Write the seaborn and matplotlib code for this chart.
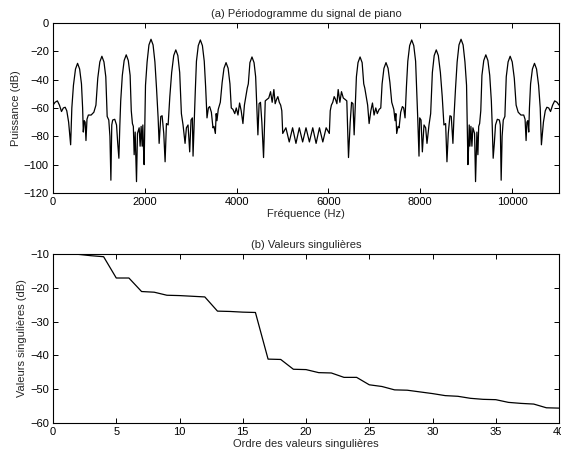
import matplotlib
matplotlib.use("Agg")
import matplotlib.pyplot as plt
import seaborn as sns

# (a) periodogramme : frequences (Hz) et puissance (dB), moitie basse puis moitie haute
freq_low = [0, 45, 95, 140, 185, 225, 265, 300, 340, 384,
            410, 445, 490, 535, 580, 620, 645, 660, 680, 700, 718, 740, 770, 830, 890, 935,
            975, 1020, 1065, 1110, 1150, 1180, 1215, 1240, 1261, 1280, 1300, 1345, 1384, 1410, 1435, 1455,
            1475, 1510, 1550, 1595, 1640, 1680, 1705, 1730, 1750, 1768, 1790, 1819, 1840, 1877, 1898, 1920,
            1942, 1957, 1971, 1985, 2000,
            2015, 2050, 2090, 2135, 2180, 2220, 2255, 2290, 2312, 2348, 2377, 2413, 2442, 2471, 2508,
            2545, 2585, 2630, 2675, 2720, 2760, 2797, 2833, 2877, 2906, 2942, 2978, 3007, 3036, 3051, 3080,
            3100, 3125, 3165, 3210, 3255, 3295, 3325, 3355, 3385, 3413, 3450, 3485, 3507, 3537, 3555, 3572, 3600,
            3645, 3685, 3725, 3770, 3815, 3855, 3884, 3920, 3960, 3993, 4030, 4065, 4100, 4138, 4170, 4200, 4232, 4255,
            4290, 4335, 4380, 4415, 4440, 4464, 4490, 4520, 4550, 4587, 4624, 4660, 4700, 4740, 4775, 4812, 4840,
            4870, 4899, 4930, 4960, 4985, 5005,
            5074, 5147, 5220, 5293, 5366, 5439, 5512]
power_low = [-58, -56, -55, -58, -62.5, -60, -59.5, -62, -70, -86,
             -60, -44, -32.5, -28.5, -32.5, -43, -60, -77, -69, -70, -83, -68, -65, -65, -63, -58,
             -39, -27.5, -23.5, -27.5, -38, -66, -68.5, -80, -111, -72, -68.5, -68, -72, -85, -95.5, -73,
             -55, -37, -26.5, -22.5, -26.5, -37, -62, -71, -73, -93, -77, -112, -78, -74, -87, -73,
             -87, -72, -88, -100, -71,
             -44, -27.5, -15.5, -11.5, -15.5, -27.5, -46, -67, -85, -66, -65.5, -78, -98, -71, -72,
             -52, -35, -23, -19, -23, -35, -64, -72, -85, -74, -72, -91, -68.5, -67, -94, -66,
             -48, -27, -16, -12, -16, -27, -45, -67, -60, -59, -63, -74, -73, -78, -64, -69, -61,
             -56, -42, -32, -28, -32, -43, -60, -61, -64, -60, -65, -56.5, -62, -71, -58, -52, -46, -43,
             -28, -24, -28, -38, -58, -79, -57, -56, -70, -95, -55, -54, -53, -48.5, -56, -47, -57,
             -54, -52, -56, -58, -62, -78,
             -74, -84, -74, -85, -74, -84, -74]

freq_high = [5586, 5659, 5732, 5805, 5878, 5951,
             6020, 6040, 6065, 6095, 6126, 6155, 6185, 6213, 6250, 6285, 6325, 6365, 6401, 6438, 6475, 6505,
             6535, 6561, 6585, 6610, 6645, 6690, 6735,
             6770, 6793, 6825, 6855, 6887, 6925, 6960, 6995, 7032, 7065, 7105, 7141, 7170, 7210, 7255, 7300, 7340, 7380,
             7425, 7453, 7470, 7488, 7518, 7540, 7575, 7612, 7640, 7670, 7700, 7730, 7770, 7815, 7860, 7900, 7925,
             7945, 7974, 7989, 8018, 8047, 8083, 8119, 8148, 8192, 8228, 8265, 8305, 8350, 8395, 8440, 8480,
             8517, 8554, 8583, 8612, 8648, 8677, 8713, 8735, 8770, 8805, 8845, 8890, 8935, 8975, 9010,
             9025, 9040, 9054, 9068, 9083, 9105, 9127, 9148, 9185, 9206, 9235, 9257, 9275, 9295, 9320, 9345,
             9385, 9430, 9475, 9515, 9550,
             9570, 9590, 9615, 9641, 9680, 9725, 9745, 9764, 9785, 9810, 9845, 9875, 9915, 9960, 10005, 10050,
             10090, 10135, 10195, 10255, 10285, 10307, 10325, 10345, 10365, 10380, 10405, 10445, 10490, 10535,
             10580, 10615,
             10641, 10685, 10725, 10760, 10800, 10840, 10885, 10930, 10980, 11025]
power_high = [-84, -74, -85, -74, -84, -74,
              -78, -62, -58, -56, -52, -54, -57, -47, -56, -48.5, -53, -54, -55, -95, -70, -56,
              -57, -79, -58, -38, -28, -24, -28,
              -43, -46, -52, -58, -71, -62, -56.5, -65, -60, -64, -61, -60, -43, -32, -28, -32, -42, -56,
              -61, -69, -64, -78, -73, -74, -63, -59, -60, -67, -45, -27, -16, -12, -16, -27, -48,
              -66, -94, -67, -68.5, -91, -72, -74, -85, -72, -64, -35, -23, -19, -23, -35, -52,
              -72, -71, -98, -78, -65.5, -66, -85, -67, -46, -27.5, -15.5, -11.5, -15.5, -27.5, -44,
              -71, -100, -88, -72, -87, -73, -87, -74, -78, -112, -77, -93, -73, -71, -62, -37,
              -26.5, -22.5, -26.5, -37, -55,
              -73, -95.5, -85, -72, -68, -68.5, -72, -111, -80, -68.5, -66, -38, -27.5, -23.5, -27.5, -39,
              -58, -63, -65, -65, -68, -83, -70, -69, -77, -60, -43, -32.5, -28.5, -32.5,
              -44, -60,
              -86, -70, -62, -59.5, -60, -62.5, -58, -55, -56, -58]

# (b) valeurs singulieres (dB) selon leur ordre
order = list(range(1, 41))
sing_db = [-10.1, -10.1, -10.5, -10.8, -17.1, -17.1, -21.1, -21.3, -22.2, -22.3,
           -22.5, -22.7, -26.9, -27.0, -27.2, -27.3, -41.1, -41.2, -44.1, -44.2,
           -45.1, -45.2, -46.5, -46.5, -48.7, -49.2, -50.2, -50.3, -50.8, -51.3,
           -51.9, -52.1, -52.7, -53.0, -53.1, -53.9, -54.2, -54.4, -55.5, -55.6]

sns.set_style("ticks")
plt.rcParams["font.family"] = ["Liberation Sans", "DejaVu Sans"]
plt.rcParams["font.size"] = 8
plt.rcParams["axes.linewidth"] = 0.8
plt.rcParams["xtick.direction"] = "in"
plt.rcParams["ytick.direction"] = "in"
plt.rcParams["xtick.top"] = True
plt.rcParams["ytick.right"] = True
plt.rcParams["xtick.major.size"] = 3.5
plt.rcParams["ytick.major.size"] = 3.5
plt.rcParams["xtick.major.width"] = 0.7
plt.rcParams["ytick.major.width"] = 0.7
plt.rcParams["xtick.major.pad"] = 3
plt.rcParams["ytick.major.pad"] = 3
plt.rcParams["xtick.color"] = "black"
plt.rcParams["ytick.color"] = "black"

fig = plt.figure(figsize=(5.61, 4.54), dpi=100)
ax1 = fig.add_axes([0.0945, 0.575, 0.902, 0.3744])
ax2 = fig.add_axes([0.0945, 0.0683, 0.902, 0.3722])

freq = freq_low + freq_high
power = power_low + power_high
sns.lineplot(x=freq, y=power, ax=ax1, color="black", linewidth=0.9)
ax1.set_xlim(0, 11025)
ax1.set_ylim(-120, 0)
ax1.set_xticks(range(0, 10001, 2000))
ax1.set_yticks(range(-120, 1, 20))
ax1.set_title("(a) Périodogramme du signal de piano", fontsize=8, pad=4)
ax1.set_xlabel("Fréquence (Hz)", labelpad=1.5)
ax1.set_ylabel("Puissance (dB)", labelpad=2)

sns.lineplot(x=order, y=sing_db, ax=ax2, color="black", linewidth=0.9)
ax2.set_xlim(0, 40)
ax2.set_ylim(-60, -10)
ax2.set_xticks(range(0, 41, 5))
ax2.set_yticks(range(-60, -9, 10))
ax2.set_title("(b) Valeurs singulières", fontsize=8, pad=4)
ax2.set_xlabel("Ordre des valeurs singulières", labelpad=1.5)
ax2.set_ylabel("Valeurs singulières (dB)", labelpad=2)

for ax in (ax1, ax2):
    for s in ax.spines.values():
        s.set_visible(True)
        s.set_color("black")

fig.savefig("out.png", dpi=100)
